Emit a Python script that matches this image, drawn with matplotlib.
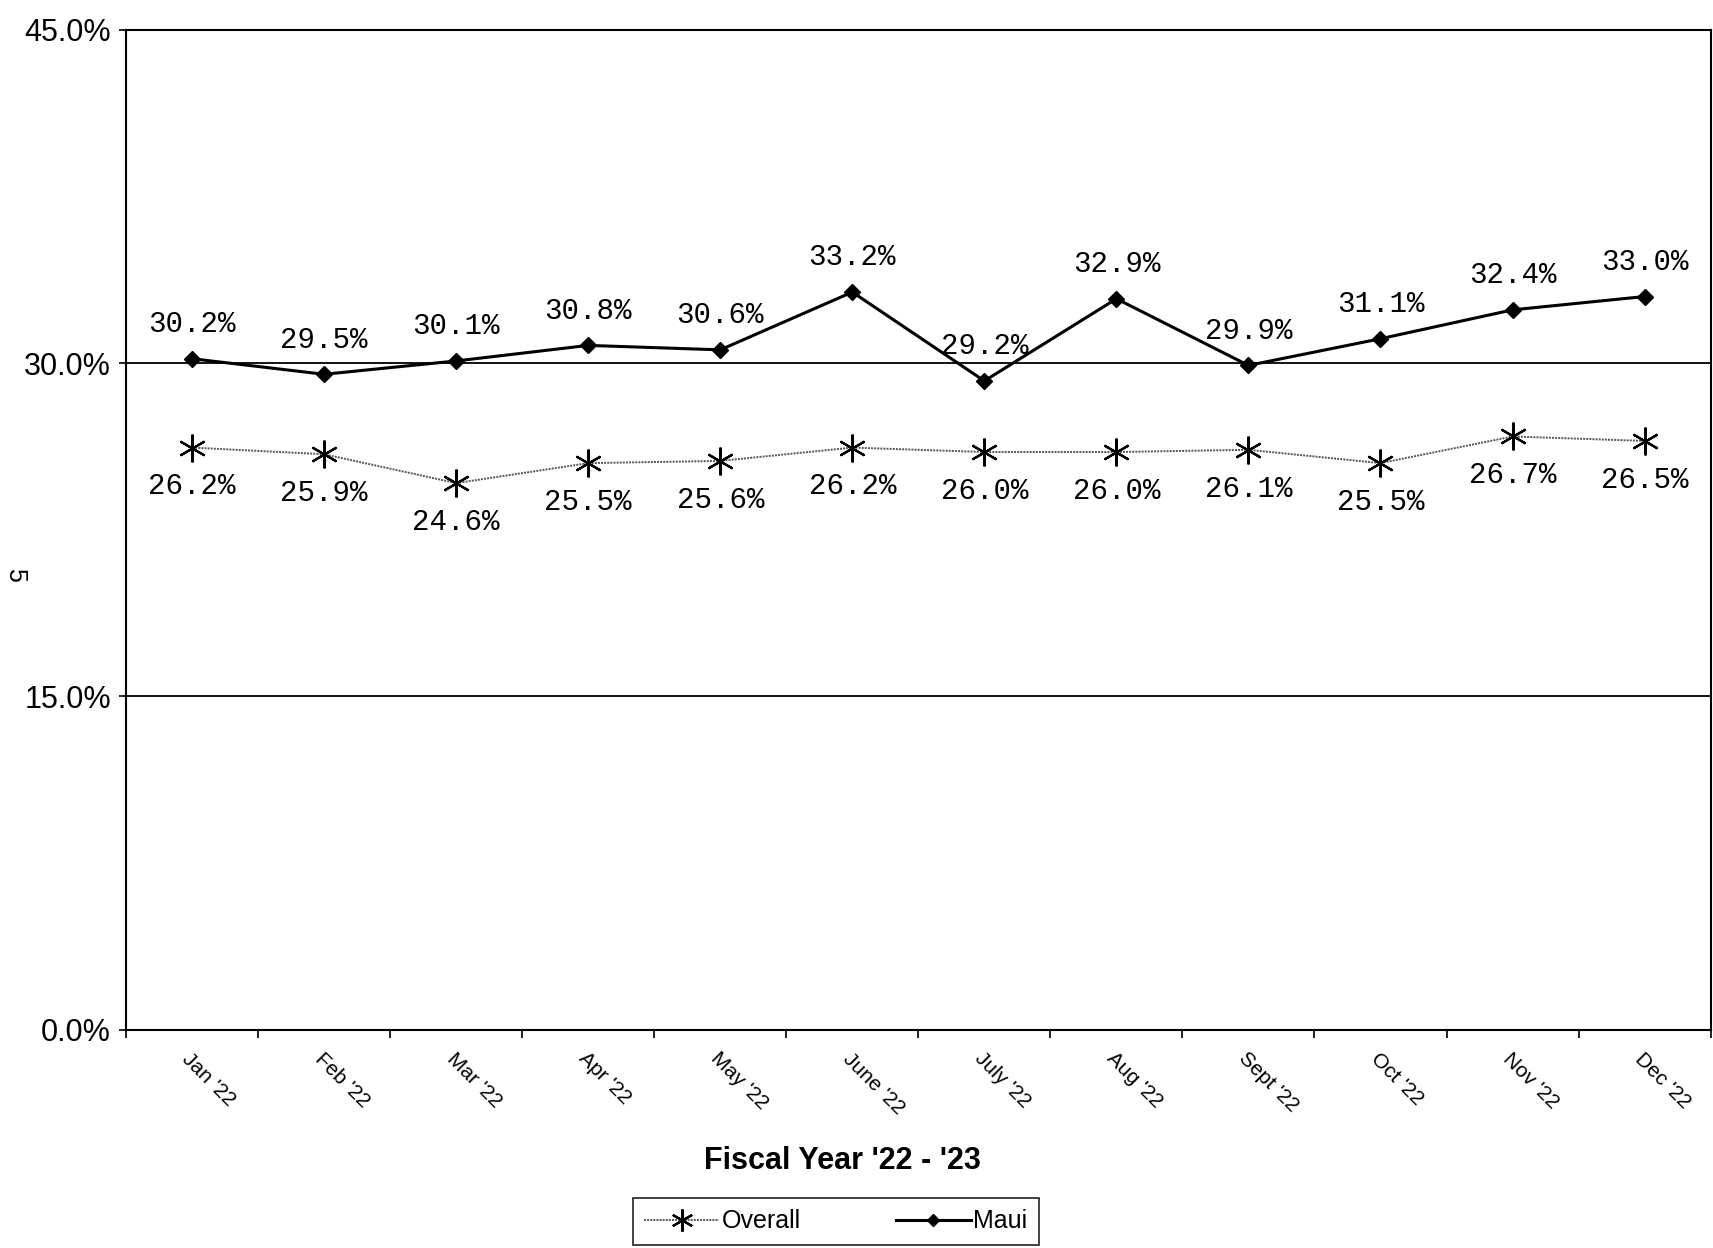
import numpy as np
import matplotlib
matplotlib.use('Agg')
import matplotlib.pyplot as plt

# data
months = ["Jan '22", "Feb '22", "Mar '22", "Apr '22", "May '22", "June '22",
          "July '22", "Aug '22", "Sept '22", "Oct '22", "Nov '22", "Dec '22"]
overall = [26.2, 25.9, 24.6, 25.5, 25.6, 26.2, 26.0, 26.0, 26.1, 25.5, 26.7, 26.5]
maui = [30.2, 29.5, 30.1, 30.8, 30.6, 33.2, 29.2, 32.9, 29.9, 31.1, 32.4, 33.0]
yticks = [0, 15, 30, 45]

plt.rcParams['font.family'] = ['Liberation Sans', 'DejaVu Sans']

fig = plt.figure(figsize=(17.13, 12.48), dpi=100)
ax = fig.add_axes([0.0736, 0.175, 0.925, 0.801])

x = np.arange(len(months))

ax.plot(x, overall, color='#555555', lw=1.4, ls=(0, (1, 0.6)),
        marker=(6, 2, 0), markersize=20, markeredgewidth=1.6,
        markeredgecolor='black', label='Overall')
ax.plot(x, maui, color='black', lw=2.2, marker='D', markersize=8,
        label='Maui')

for xi, v in zip(x, maui):
    ax.annotate('%.1f%%' % v, (xi, v), xytext=(0, 25), textcoords='offset points',
                ha='center', va='center', fontsize=21, family='Liberation Mono')
for xi, v in zip(x, overall):
    ax.annotate('%.1f%%' % v, (xi, v), xytext=(0, -28), textcoords='offset points',
                ha='center', va='center', fontsize=21, family='Liberation Mono')

ax.set_xlim(-0.5, len(months) - 0.5)
ax.set_ylim(0, 45)
ax.set_yticks(yticks)
ax.set_yticklabels(['%.1f%%' % t for t in yticks], fontsize=22)
for t in yticks[1:3]:
    ax.axhline(t, color='black', lw=1.3)

ax.set_xticks(x)
ax.set_xticklabels(months, rotation=-45, ha='left', va='top',
                   rotation_mode='anchor', fontsize=15)
ax.set_xticks(np.arange(-0.5, len(months), 1), minor=True)
ax.tick_params(axis='x', which='major', length=0, pad=14)
ax.tick_params(axis='x', which='minor', length=6, width=1.2)
ax.tick_params(axis='y', length=5, width=1.2, pad=6)
for s in ax.spines.values():
    s.set_linewidth(1.5)

fig.text(0.492, 0.070, "Fiscal Year '22 - '23", fontsize=22, fontweight='bold',
         ha='center', va='center')

fig.text(0.009, 0.539, '5', rotation=-90, fontsize=18, ha='center', va='center')

h, l = ax.get_legend_handles_labels()
leg = fig.legend(h, l, loc='upper center', bbox_to_anchor=(0.488, 0.050), ncol=2,
                 fontsize=18, frameon=True, fancybox=False, edgecolor='black',
                 handlelength=3.0, handletextpad=0.1, columnspacing=3.8,
                 borderpad=0.45, markerscale=0.8)
leg.get_frame().set_linewidth(1.3)

fig.savefig('out.png', dpi=100)
